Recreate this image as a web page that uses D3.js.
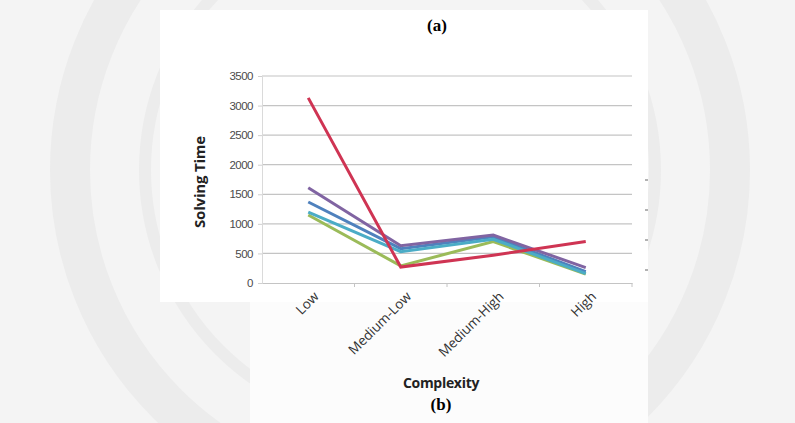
<!DOCTYPE html>
<html><head><meta charset="utf-8">
<script src="https://cdn.jsdelivr.net/npm/d3@7"></script>
<style>html,body{margin:0;padding:0;background:#f3f3f3;}svg{display:block;}</style>
</head><body>
<svg id="c" width="795" height="423"></svg>
<script>
const categories = ["Low", "Medium-Low", "Medium-High", "High"];
const yTicks = [0, 500, 1000, 1500, 2000, 2500, 3000, 3500];
const seriesNames = ["S1", "S2", "S3", "S4", "S5"];
const greenVals  = [1150, 290, 700, 150];
const blueVals   = [1370, 580, 780, 190];
const cyanVals   = [1200, 530, 740, 160];
const purpleVals = [1610, 630, 810, 260];
const redVals    = [3130, 270, 470, 700];

const series = [
  {name: seriesNames[0], values: greenVals,  color: "#9bbb59"},
  {name: seriesNames[1], values: blueVals,   color: "#4f81bd"},
  {name: seriesNames[2], values: cyanVals,   color: "#4bacc6"},
  {name: seriesNames[3], values: purpleVals, color: "#8064a2"},
  {name: seriesNames[4], values: redVals,    color: "#cf3453"}
];

const svg = d3.select("#c");
// background watermark
svg.append("rect").attr("width",795).attr("height",423).attr("fill","#f4f4f4");
const wm = svg.append("g").attr("fill","none").attr("stroke","#ececec");
wm.append("circle").attr("cx",400).attr("cy",170).attr("r",330).attr("stroke-width",40);
wm.append("circle").attr("cx",400).attr("cy",170).attr("r",255).attr("stroke-width",12);
// white panel
svg.append("rect").attr("x",160).attr("y",10).attr("width",488).attr("height",292).attr("fill","#fff");
svg.append("rect").attr("x",250).attr("y",302).attr("width",398).attr("height",121).attr("fill","#fcfcfc");

const x = d3.scaleBand().domain(categories).range([262, 632]);
const y = d3.scaleLinear().domain([0, 3500]).range([283, 76]);

// gridlines
svg.append("g").selectAll("line").data(yTicks.filter(d=>d>0)).join("line")
  .attr("x1",262).attr("x2",632).attr("y1",d=>y(d)).attr("y2",d=>y(d))
  .attr("stroke","#c4c4c4").attr("stroke-width",1.2);

// y axis
const ya = svg.append("g").attr("transform","translate(262,0)")
  .call(d3.axisLeft(y).tickValues(yTicks).tickFormat(d3.format("d")).tickSize(4).tickPadding(5));
ya.select(".domain").attr("stroke","#dadada");
ya.selectAll(".tick line").attr("stroke","#d0d0d0");
ya.selectAll("text").attr("font-family","Liberation Sans, sans-serif").attr("font-size",11.5)
  .attr("fill","#4a4a4a").attr("letter-spacing","-0.5");

// x axis
const xa = svg.append("g").attr("transform","translate(0,283)")
  .call(d3.axisBottom(x).tickSize(0).tickPadding(0));
xa.select(".domain").attr("stroke","#c4c4c4").attr("stroke-width",1.2);
xa.selectAll("text").attr("font-family","Open Sans, sans-serif").attr("font-size",13.5)
  .attr("fill","#333").attr("text-anchor","end").attr("y",0).attr("dy","0.35em")
  .attr("transform","translate(8,11) rotate(-45)");
// boundary ticks
svg.append("g").selectAll("line").data(categories.slice(1).concat(["_end"])).join("line")
  .attr("x1",d=>d==="_end"?632:x(d)).attr("x2",d=>d==="_end"?632:x(d))
  .attr("y1",283).attr("y2",287).attr("stroke","#c4c4c4");

// lines
const line = d3.line().x((d,i)=>x(categories[i])+x.bandwidth()/2).y(d=>y(d));
svg.append("g").selectAll("path").data(series).join("path")
  .attr("d",d=>line(d.values)).attr("fill","none")
  .attr("stroke",d=>d.color).attr("stroke-width",3).attr("stroke-linejoin","miter");

// labels
svg.append("text").attr("x",437).attr("y",31).attr("text-anchor","middle")
  .attr("font-family","Liberation Serif, serif").attr("font-weight","bold").attr("font-size",17).text("(a)");
svg.append("text").attr("x",441).attr("y",410).attr("text-anchor","middle")
  .attr("font-family","Liberation Serif, serif").attr("font-weight","bold").attr("font-size",17).text("(b)");
svg.append("text").attr("x",441).attr("y",388).attr("text-anchor","middle")
  .attr("font-family","Open Sans, sans-serif").attr("font-weight","bold").attr("font-size",14)
  .attr("fill","#222").attr("letter-spacing","-0.3").text("Complexity");
svg.append("text").attr("transform","translate(205,182) rotate(-90)").attr("text-anchor","middle")
  .attr("font-family","Open Sans, sans-serif").attr("font-weight","bold").attr("font-size",15)
  .attr("fill","#222").attr("letter-spacing","-0.2").text("Solving Time");
// right-edge tick fragments
svg.append("g").selectAll("line").data([180,210,240,270]).join("line")
  .attr("x1",645).attr("x2",648).attr("y1",d=>d).attr("y2",d=>d).attr("stroke","#666");
</script>
</body></html>
